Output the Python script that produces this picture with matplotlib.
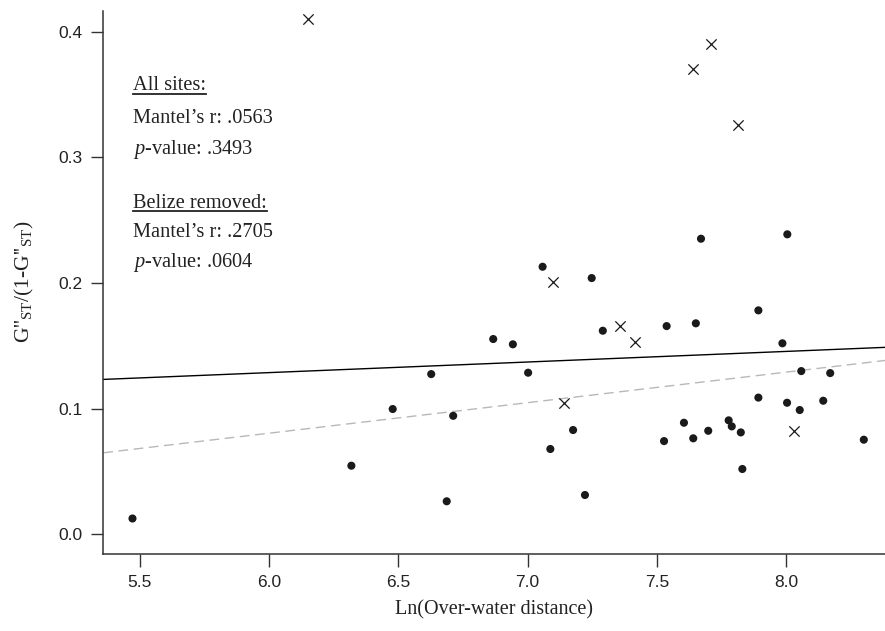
import numpy as np
import matplotlib
matplotlib.use("Agg")
import matplotlib.pyplot as plt
from matplotlib.lines import Line2D

plt.rcParams["mathtext.fontset"] = "custom"
plt.rcParams["mathtext.rm"] = "Liberation Serif"
plt.rcParams["mathtext.it"] = "Liberation Serif:italic"

# site pairs (Ln distance, G''ST/(1-G''ST))
site_x = [5.471, 6.318, 6.478, 6.627, 6.687, 6.712, 6.867, 6.943, 7.002, 7.058,
          7.088, 7.176, 7.222, 7.248, 7.291, 7.528, 7.538, 7.605, 7.641, 7.651,
          7.671, 7.699, 7.778, 7.790, 7.825, 7.831, 7.893, 7.893, 7.986, 8.005,
          8.004, 8.053, 8.059, 8.144, 8.171, 8.301]
site_y = [0.0126, 0.0546, 0.0997, 0.1275, 0.0263, 0.0943, 0.1554, 0.1512, 0.1286, 0.2129,
          0.0679, 0.0830, 0.0313, 0.2039, 0.1620, 0.0742, 0.1657, 0.0888, 0.0764, 0.1679,
          0.2352, 0.0824, 0.0907, 0.0859, 0.0811, 0.0520, 0.1782, 0.1088, 0.1520, 0.2387,
          0.1047, 0.0989, 0.1299, 0.1063, 0.1283, 0.0753]

# pairs involving Belize
belize_x = [6.151, 7.097, 7.142, 7.359, 7.416, 7.640, 7.709, 7.815, 8.030]
belize_y = [0.4097, 0.2010, 0.1047, 0.1657, 0.1527, 0.3702, 0.3898, 0.3256, 0.0824]

# regression lines: (intercept, slope)
fit_all = (0.0781, 0.00843)
fit_no_belize = (-0.0652, 0.02428)

xlim = (5.358, 8.383)
ylim = (-0.0154, 0.4166)

fig = plt.figure(figsize=(8.85, 6.31), dpi=100)
ax = fig.add_axes([0.1167, 0.1225, 0.8833, 0.8605])

xx = np.array(xlim)
ax.plot(xx, fit_all[0] + fit_all[1] * xx, color="black", lw=1.0, zorder=2)
ax.plot(xx, fit_no_belize[0] + fit_no_belize[1] * xx, color="#b8b8b8", lw=1.0,
        dashes=(7, 4), zorder=2)

ax.scatter(site_x, site_y, s=34, color="#1a1a1a", edgecolors="none", zorder=3)
ax.scatter(belize_x, belize_y, s=55, marker="x", color="#1a1a1a", linewidths=0.9, zorder=3)

ax.set_xlim(xlim)
ax.set_ylim(ylim)
ax.set_xticks([5.5, 6.0, 6.5, 7.0, 7.5, 8.0])
ax.set_yticks([0.0, 0.1, 0.2, 0.3, 0.4])
ax.set_xticklabels(["5.5", "6.0", "6.5", "7.0", "7.5", "8.0"])
ax.set_yticklabels(["0.0", "0.1", "0.2", "0.3", "0.4"])
ax.tick_params(length=9, width=1.0, color="#333333", labelsize=12.5, pad=6,
               labelcolor="#222222")
for lab in ax.get_xticklabels() + ax.get_yticklabels():
    lab.set_family("Liberation Sans")

for side in ["top", "right"]:
    ax.spines[side].set_visible(False)
for side in ["left", "bottom"]:
    ax.spines[side].set_color("#333333")
    ax.spines[side].set_linewidth(1.1)

ax.set_xlabel("Ln(Over-water distance)", family="Liberation Serif", fontsize=14.5,
              labelpad=8, color="#222222")
ax.set_ylabel("G''$_{\\mathrm{ST}}$/(1-G''$_{\\mathrm{ST}}$)", family="Liberation Serif",
              fontsize=15.5, labelpad=16, color="#222222")

# annotation block
ann_x = 133.3 / 885
lines = [
    ("All sites:", 90, True),
    ("Mantel\u2019s r: .0563", 123.3, False),
    ("$\\it{p}$-value: .3493", 154.3, False),
    ("Belize removed:", 207.7, True),
    ("Mantel\u2019s r: .2705", 236.7, False),
    ("$\\it{p}$-value: .0604", 267.3, False),
]
texts = []
for s, py, under in lines:
    t = fig.text(ann_x, 1 - py / 631, s, family="Liberation Serif", fontsize=14.7,
                 va="baseline", ha="left", color="#222222")
    texts.append((t, py, under))

fig.canvas.draw()
r = fig.canvas.get_renderer()
for t, py, under in texts:
    if under:
        bb = t.get_window_extent(r)
        yl = 1 - (py + 3.5) / 631
        fig.add_artist(Line2D([bb.x0 / 885, bb.x1 / 885], [yl, yl], color="#222222",
                              lw=1.3, transform=fig.transFigure))

fig.savefig("out.png", dpi=100)
